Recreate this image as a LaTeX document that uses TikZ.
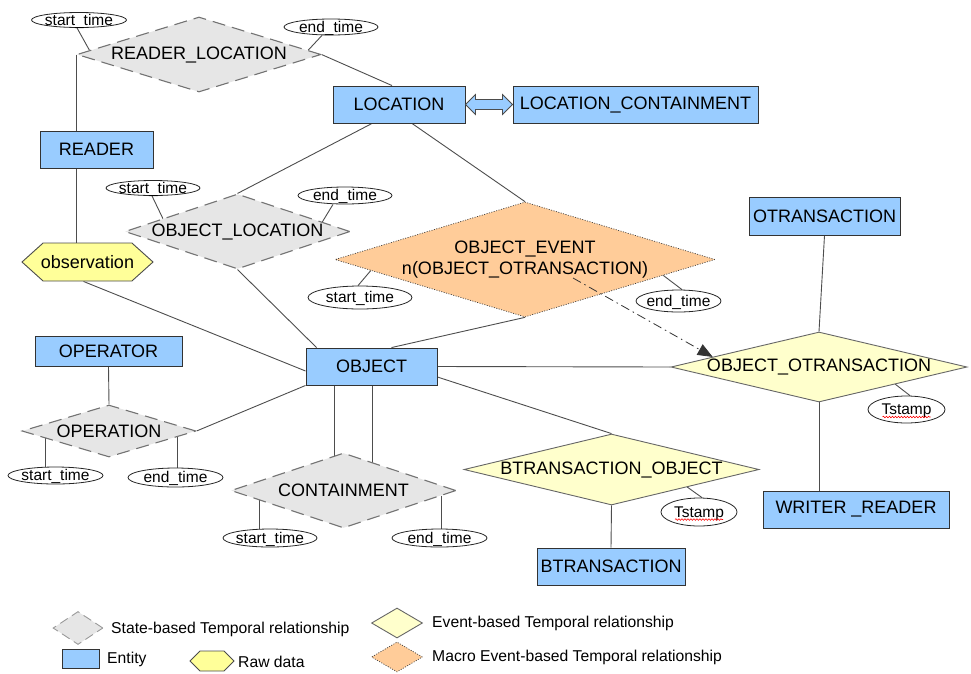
\documentclass[tikz,border=0pt]{standalone}
\usepackage{fontspec}
\setmainfont{Liberation Sans}
\usetikzlibrary{shapes.geometric,shapes.symbols,arrows.meta,calc,decorations.pathmorphing}
\definecolor{entblue}{HTML}{99CCFF}
\definecolor{stgray}{HTML}{E6E6E6}
\definecolor{evyellow}{HTML}{FFFFCC}
\definecolor{rawyellow}{HTML}{FFFF99}
\definecolor{macroorange}{HTML}{FFCC99}
\definecolor{edgegray}{HTML}{4D4D4D}
\pgfdeclarelayer{bg}
\pgfsetlayers{bg,main}
\begin{document}
\begin{tikzpicture}[x=1pt,y=-1pt,
  bigfont/.style={font=\fontsize{18}{20}\selectfont},
  smallfont/.style={font=\fontsize{15.5}{17}\selectfont},
  legfont/.style={font=\fontsize{15.7}{17}\selectfont},
  every label/.style={font=\fontsize{18}{20.5}\selectfont, inner sep=0pt, text=black},
  entity/.style={rectangle, draw=black!80, fill=entblue, line width=0.9pt, inner sep=0pt, bigfont},
  statediam/.style={diamond, draw=black!55, fill=stgray, dash pattern=on 13pt off 7pt, line width=1.1pt, inner sep=0pt},
  eventdiam/.style={diamond, draw=black!60, fill=evyellow, line width=0.9pt, inner sep=0pt},
  macrodiam/.style={diamond, draw=black!75, fill=macroorange, dash pattern=on 1pt off 1.5pt, line width=0.7pt, inner sep=0pt},
  rawdata/.style={signal, signal to=east and west, signal pointer angle=84, draw=black!70, fill=rawyellow, line width=0.9pt, inner ysep=0pt, inner xsep=-2.5pt, bigfont},
  attr/.style={ellipse, draw=black!85, fill=white, line width=0.8pt, inner ysep=0pt, inner xsep=-2pt, text height=10pt, text depth=0pt, smallfont},
  conn/.style={draw=edgegray, line width=0.9pt},
  wavy/.style={draw=red, line width=0.6pt, decorate, decoration={snake, amplitude=0.8pt, segment length=3pt}},
  legtext/.style={anchor=west, inner sep=0pt, legfont},
]
\useasboundingbox (0,0) rectangle (971,673);

% entities
\node[entity, minimum width=113pt, minimum height=37pt] (reader) at (96.5,149.5) {READER};
\node[entity, minimum width=132pt, minimum height=37pt] (loc) at (399,104.5) {LOCATION};
\node[entity, minimum width=245pt, minimum height=37pt] (lc) at (635.5,104.5) {LOCATION\_CONTAINMENT};
\node[entity, minimum width=151pt, minimum height=38pt] (otr) at (824.5,216) {OTRANSACTION};
\node[entity, minimum width=147pt, minimum height=30pt] (opr) at (108.5,351) {OPERATOR};
\node[entity, minimum width=131pt, minimum height=37pt] (obj) at (371.5,366.5) {OBJECT};
\node[entity, minimum width=148pt, minimum height=37pt] (btr) at (611,566.5) {BTRANSACTION};
\node[entity, minimum width=186pt, minimum height=37pt] (wr) at (856,509.5) {WRITER \_READER};

% relationships
\node[statediam, minimum width=244pt, minimum height=75pt, label={center:READER\_LOCATION}] (rl) at (199,54.5) {};
\node[statediam, minimum width=225pt, minimum height=75pt, label={center:OBJECT\_LOCATION}] (ol) at (237.5,231.5) {};
\node[statediam, minimum width=174pt, minimum height=52pt, label={center:OPERATION}] (opn) at (109,431) {};
\node[statediam, minimum width=225pt, minimum height=75pt, label={center:CONTAINMENT}] (cont) at (343.5,490.5) {};
\node[macrodiam, minimum width=380pt, minimum height=115pt, label={[align=center]center:{OBJECT\_EVENT\\n(OBJECT\_OTRANSACTION)}}] (oe) at (525,259.5) {};
\node[eventdiam, minimum width=296pt, minimum height=70pt, label={center:OBJECT\_OTRANSACTION}] (oot) at (819,367) {};
\node[eventdiam, minimum width=295pt, minimum height=71pt, label={center:BTRANSACTION\_OBJECT}] (bto) at (611.5,469.5) {};

% raw data
\node[rawdata, minimum width=131pt, minimum height=38pt] (obs) at (87.5,262) {observation};

% attributes
\node[attr, minimum width=95pt, minimum height=15pt] (st1) at (79,20) {start\_time};
\node[attr, minimum width=94pt, minimum height=16pt] (et1) at (331,27) {end\_time};
\node[attr, minimum width=94pt, minimum height=15pt] (st2) at (153,188) {start\_time};
\node[attr, minimum width=94pt, minimum height=17pt] (et2) at (345,195.5) {end\_time};
\node[attr, minimum width=104pt, minimum height=23pt] (st3) at (360,297.5) {start\_time};
\node[attr, minimum width=85pt, minimum height=22pt] (et3) at (678.5,301) {end\_time};
\node[attr, minimum width=95pt, minimum height=17pt] (st4) at (55.5,475.5) {start\_time};
\node[attr, minimum width=95pt, minimum height=19pt] (et4) at (175.5,477.5) {end\_time};
\node[attr, minimum width=94pt, minimum height=18pt] (st5) at (270,538) {start\_time};
\node[attr, minimum width=95pt, minimum height=18pt] (et5) at (439.5,538) {end\_time};
\node[attr, minimum width=77pt, minimum height=27pt] (ts1) at (906.5,409.5) {Tstamp};
\node[attr, minimum width=76pt, minimum height=28pt] (ts2) at (699,512) {Tstamp};
\draw[wavy] ([xshift=-24pt,yshift=-7.5pt]ts1.center) -- ([xshift=24pt,yshift=-7.5pt]ts1.center);
\draw[wavy] ([xshift=-24pt,yshift=-7.5pt]ts2.center) -- ([xshift=24pt,yshift=-7.5pt]ts2.center);

% connectors
\begin{pgfonlayer}{bg}
\draw[conn] (rl.west) -- (rl.west |- reader.north);
\draw[conn] (reader.south -| rl.west) -- (rl.west |- obs.north);
\draw[conn] (rl.east) -- ([xshift=-7pt]loc.north);
\draw[conn] ([xshift=-27pt]loc.south) -- (ol.north);
\draw[conn] ([xshift=13pt]loc.south) -- (oe.north);
\draw[conn] (ol.south) -- ([xshift=11pt]obj.north west);
\draw[conn] ([xshift=-4pt]obs.south) -- ([yshift=-4.5pt]obj.west);
\draw[conn] (oe.south) -- ([xshift=20pt]obj.north);
\draw[conn] (obj.east) -- (oot.west);
\draw[conn] ([yshift=-10.5pt]obj.east) -- (bto.north);
\draw[conn] (obj.south west) -- (opn.east);
\draw[conn] (opr.south) -- (opn.north);
\coordinate (c1) at ([xshift=29pt]obj.south west);
\coordinate (c2) at ([xshift=67pt]obj.south west);
\draw[conn] (c1) -- (c1 |- cont.center);
\draw[conn] (c2) -- (c2 |- cont.center);
\draw[conn] (otr.south) -- (oot.north);
\draw[conn] (oot.south) -- (oot.south |- wr.north);
\draw[conn] (bto.south) -- (btr.north);
% attribute links
\draw[conn] ([xshift=-2pt]st1.south) -- ($(rl.west)!0.107!(rl.north)$);
\draw[conn] ([xshift=-9pt]et1.south) -- ($(rl.east)!0.11!(rl.north)$);
\draw[conn] ([xshift=-1pt]st2.south) -- ($(ol.west)!0.34!(ol.north)$);
\draw[conn] ([xshift=-12pt]et2.south) -- ($(ol.east)!0.25!(ol.north)$);
\draw[conn] ([xshift=-2pt]st3.north) -- ($(oe.west)!0.19!(oe.south)$);
\draw[conn] ([xshift=3.5pt]et3.north) -- ($(oe.east)!0.274!(oe.south)$);
\coordinate (a4) at ($(opn.west)!0.276!(opn.south)$);
\coordinate (b4) at ($(opn.east)!0.218!(opn.south)$);
\coordinate (a5) at ($(cont.west)!0.258!(cont.south)$);
\coordinate (b5) at ($(cont.east)!0.133!(cont.south)$);
\draw[conn] (a4) -- (a4 |- st4.center);
\draw[conn] (b4) -- (b4 |- et4.center);
\draw[conn] (a5) -- (a5 |- st5.center);
\draw[conn] (b5) -- (b5 |- et5.center);
\draw[conn] ([xshift=3.5pt]ts1.north) -- ($(oot.east)!0.486!(oot.south)$);
\draw[conn] ([xshift=3pt]ts2.north) -- ($(bto.east)!0.488!(bto.south)$);
\end{pgfonlayer}

% double arrow LOCATION <-> LOCATION_CONTAINMENT
\draw[draw=black!70, fill=entblue, line width=0.8pt, line join=miter]
  (loc.east) -- ++(10,-10) -- ++(0,5) -- ($(lc.west)+(-10,-5)$) -- ++(0,-5) -- (lc.west)
  -- ++(-10,10) -- ++(0,-5) -- ($(loc.east)+(10,5)$) -- ++(0,5) -- cycle;

% macro event arrow
\coordinate (evsrc) at ($(oe.center)+(48,18.5)$);
\draw[draw=black!80, line width=0.8pt, dash pattern=on 9pt off 4pt on 1.5pt off 4pt,
  -{Triangle[length=15pt,width=12pt]}] (evsrc) -- ($(oot.west)!0.284!(oot.north)$);

% legend
\node[statediam, dash pattern=on 9pt off 5pt, draw=black!40, line width=0.9pt, minimum width=50pt, minimum height=33pt] (lgs) at (78,628) {};
\node[legtext] (lgst) at (111,629) {State-based Temporal relationship};
\node[entity, minimum width=37pt, minimum height=19pt] (lge) at (80.5,658.5) {};
\node[legtext] (lget) at (107,659) {Entity};
\node[rawdata, signal pointer angle=90, minimum width=44pt, minimum height=20pt] (lgr) at (212,661) {};
\node[legtext] (lgrt) at (238,662) {Raw data};
\node[eventdiam, minimum width=51pt, minimum height=30pt] (lgv) at (397,623) {};
\node[legtext] (lgvt) at (432,623) {Event-based Temporal relationship};
\node[macrodiam, minimum width=51pt, minimum height=30pt] (lgm) at (397,657) {};
\node[legtext] (lgmt) at (432,657) {Macro Event-based Temporal relationship};
\end{tikzpicture}
\end{document}
